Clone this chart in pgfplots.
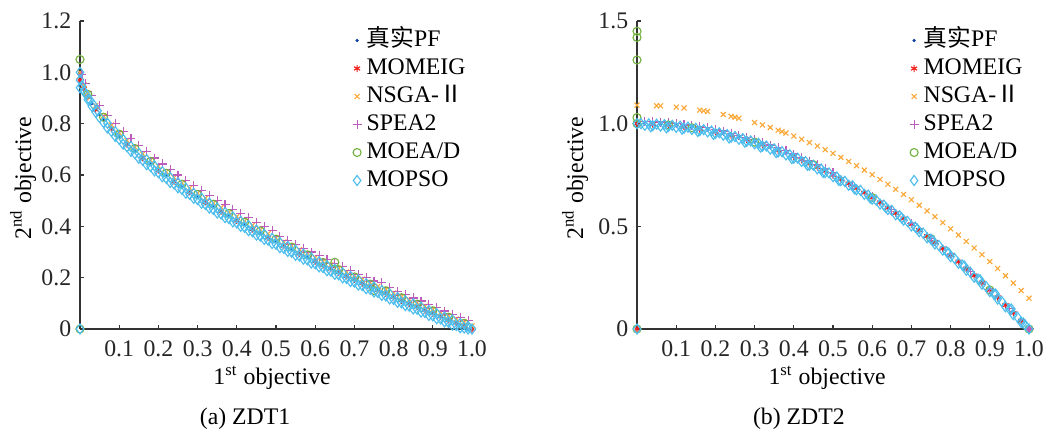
\documentclass[border=0pt]{standalone}
\usepackage{pgfplots}
\pgfplotsset{compat=1.18}
\usepackage{fontspec}
\setmainfont{Liberation Serif}
\newfontfamily\cjk{Noto Sans CJK SC}
\definecolor{pfblue}{rgb}{0.05,0.25,0.65}
\definecolor{momred}{rgb}{0.95,0.12,0.10}
\definecolor{nsgaor}{rgb}{0.98,0.66,0.22}
\definecolor{speapu}{rgb}{0.74,0.36,0.74}
\definecolor{moeagr}{rgb}{0.45,0.70,0.25}
\definecolor{mopcy}{rgb}{0.30,0.74,0.93}
\definecolor{axgray}{rgb}{0.2,0.2,0.2}
\newcommand{\fs}{\fontsize{9.5}{11}\selectfont}
\pgfplotsset{
  pf/.style={only marks, mark=*, mark size=0.45pt, color=pfblue},
  mom/.style={only marks, mark=asterisk, mark size=1.4pt, color=momred, mark options={line width=0.45pt}},
  nsga/.style={only marks, mark=x, mark size=1.4pt, color=nsgaor, mark options={line width=0.45pt}},
  spea/.style={only marks, mark=+, mark size=1.8pt, color=speapu, mark options={line width=0.45pt}},
  moead/.style={only marks, mark=o, mark size=1.6pt, color=moeagr, mark options={line width=0.45pt}},
  mopso/.style={only marks, mark=diamond, mark size=2.0pt, color=mopcy, mark options={line width=0.45pt}},
  myax/.style={
    anchor=south west, scale only axis, width=156.8pt, height=123.2pt,
    xmin=0, xmax=1.0, clip=false,
    axis x line*=bottom, axis y line*=left,
    axis line style={-, axgray, line width=0.55pt},
    tick style={axgray, line width=0.5pt}, tick align=inside,
    major tick length=1.7pt,
    xtick={0.1,0.2,0.3,0.4,0.5,0.6,0.7,0.8,0.9,1.0},
    xticklabels={0.1,0.2,0.3,0.4,0.5,0.6,0.7,0.8,0.9,1.0},
    tick label style={font=\fs, text=black!85},
    /pgf/number format/assume math mode=true,
    xticklabel style={yshift=-1.3pt},
    legend style={draw=none, fill=none, at={(0.675,1.0)}, anchor=north west,
      font=\fs, row sep=0pt, column sep=1.5pt,
      nodes={text height=7pt, text depth=2.2pt, inner ysep=1pt, inner xsep=0.5pt}},
    legend cell align=left,
    legend image code/.code={\draw[#1] plot coordinates {(0pt,0pt)};},
  }
}
\begin{document}
\begin{tikzpicture}
\path[use as bounding box] (0,0) rectangle (418pt,171.6pt);
% ---------------- ZDT1 ----------------
\begin{axis}[myax, at={(32pt,40pt)}, ymin=0, ymax=1.2,
  ytick={0,0.2,0.4,0.6,0.8,1.0,1.2}, yticklabels={0,0.2,0.4,0.6,0.8,1.0,1.2}]
\addplot[pf] coordinates {(0,1.0)(0.005,0.958)(0.01,0.937)(0.02,0.904)(0.03,0.878)(0.04,0.855)(0.05,0.834)(0.06,0.815)(0.08,0.780)(0.10,0.749)(0.12,0.720)(0.14,0.693)(0.16,0.667)(0.18,0.643)(0.20,0.619)(0.22,0.597)(0.24,0.575)(0.26,0.554)(0.28,0.534)(0.30,0.514)(0.32,0.495)(0.34,0.476)(0.36,0.458)(0.38,0.440)(0.40,0.423)(0.42,0.406)(0.44,0.389)(0.46,0.372)(0.48,0.356)(0.50,0.340)(0.52,0.324)(0.54,0.309)(0.56,0.294)(0.58,0.279)(0.60,0.264)(0.62,0.249)(0.64,0.235)(0.66,0.221)(0.68,0.207)(0.70,0.193)(0.72,0.179)(0.74,0.165)(0.76,0.152)(0.78,0.139)(0.80,0.125)(0.82,0.112)(0.84,0.099)(0.86,0.087)(0.88,0.074)(0.90,0.061)(0.92,0.049)(0.94,0.036)(0.96,0.024)(0.98,0.012)(1.0,0.0)};
\addlegendentry{{\cjk 真实}PF}
\addplot[mom] coordinates {(0,0.97)(0.01,0.937)(0.02,0.904)(0.04,0.855)(0.08,0.780)(0.12,0.720)(0.16,0.667)(0.20,0.619)(0.24,0.575)(0.28,0.534)(0.32,0.495)(0.36,0.458)(0.40,0.423)(0.44,0.389)(0.48,0.356)(0.52,0.324)(0.56,0.294)(0.60,0.264)(0.62,0.249)(0.64,0.235)(0.66,0.221)(0.68,0.207)(0.70,0.193)(0.72,0.179)(0.74,0.165)(0.76,0.152)(0.78,0.139)(0.80,0.125)(0.82,0.112)(0.84,0.099)(0.86,0.087)(0.88,0.074)(0.90,0.061)(0.92,0.049)(0.94,0.036)(0.96,0.024)(0.98,0.012)(1.0,0.0)};
\addlegendentry{MOMEIG}
\addplot[nsga] coordinates {(0,1.0)(0.01,0.952)(0.02,0.919)(0.04,0.870)(0.06,0.830)(0.08,0.795)(0.10,0.764)(0.12,0.735)(0.14,0.708)(0.16,0.682)(0.18,0.658)(0.20,0.634)(0.22,0.612)(0.24,0.590)(0.26,0.569)(0.28,0.549)(0.30,0.529)(0.32,0.510)(0.34,0.491)(0.36,0.473)(0.38,0.455)(0.40,0.438)(0.42,0.421)(0.44,0.404)(0.46,0.387)(0.48,0.371)(0.50,0.355)(0.52,0.339)(0.54,0.324)(0.56,0.309)(0.58,0.294)(0.60,0.279)(0.62,0.264)(0.64,0.250)(0.66,0.236)(0.68,0.222)(0.70,0.208)(0.72,0.194)(0.74,0.180)(0.76,0.167)(0.78,0.154)(0.80,0.140)(0.82,0.127)(0.84,0.114)(0.86,0.102)(0.88,0.089)(0.90,0.076)(0.92,0.064)(0.94,0.051)(0.96,0.039)(0.98,0.027)(1.0,0.012)};
\addlegendentry{NSGA-{\cjk Ⅱ}}
\addplot[spea] coordinates {(0.005,0.99)(0.015,0.955)(0.03,0.91)(0.05,0.87)(0.07,0.832)(0.09,0.80)(0.11,0.77)(0.13,0.742)(0.15,0.715)(0.17,0.69)(0.19,0.666)(0.21,0.643)(0.23,0.621)(0.25,0.60)(0.27,0.579)(0.29,0.559)(0.31,0.540)(0.33,0.52)(0.35,0.502)(0.37,0.484)(0.39,0.467)(0.41,0.45)(0.43,0.433)(0.45,0.416)(0.47,0.399)(0.49,0.383)(0.51,0.36)(0.53,0.345)(0.55,0.33)(0.57,0.315)(0.59,0.30)(0.61,0.285)(0.63,0.27)(0.65,0.256)(0.67,0.242)(0.69,0.228)(0.71,0.214)(0.73,0.20)(0.75,0.187)(0.77,0.18)(0.79,0.16)(0.81,0.147)(0.83,0.134)(0.85,0.121)(0.87,0.109)(0.89,0.096)(0.91,0.083)(0.93,0.07)(0.95,0.058)(0.97,0.046)(0.99,0.034)};
\addlegendentry{SPEA2}
\addplot[moead] coordinates {(0,1.05)(0,0)(0.65,0.26)(0.75,0.15)(0.02,0.914)(0.06,0.825)(0.10,0.759)(0.14,0.703)(0.18,0.653)(0.22,0.607)(0.26,0.564)(0.30,0.524)(0.34,0.486)(0.38,0.45)(0.42,0.416)(0.46,0.382)(0.50,0.35)(0.54,0.319)(0.58,0.289)(0.62,0.259)(0.66,0.231)(0.70,0.203)(0.74,0.175)(0.78,0.149)(0.82,0.122)(0.86,0.097)(0.90,0.071)(0.94,0.046)(0.98,0.022)};
\addlegendentry{MOEA/D}
\addplot[mopso] coordinates {(0,1.0)(0,0.97)(0,0.94)(0,0)(0.005,0.948)(0.01,0.927)(0.02,0.894)(0.03,0.868)(0.04,0.845)(0.05,0.824)(0.06,0.805)(0.08,0.770)(0.10,0.739)(0.12,0.710)(0.14,0.683)(0.16,0.657)(0.18,0.633)(0.20,0.609)(0.22,0.587)(0.24,0.565)(0.26,0.544)(0.28,0.524)(0.30,0.504)(0.32,0.485)(0.34,0.466)(0.36,0.448)(0.38,0.430)(0.40,0.413)(0.42,0.396)(0.44,0.379)(0.46,0.362)(0.48,0.346)(0.50,0.330)(0.52,0.314)(0.54,0.299)(0.56,0.284)(0.58,0.269)(0.60,0.254)(0.62,0.239)(0.64,0.225)(0.66,0.211)(0.68,0.197)(0.70,0.183)(0.72,0.169)(0.74,0.155)(0.76,0.142)(0.78,0.129)(0.80,0.115)(0.82,0.102)(0.84,0.089)(0.86,0.077)(0.88,0.064)(0.90,0.051)(0.92,0.039)(0.94,0.026)(0.96,0.014)(0.98,0.004)(1.0,0.0)
(0.07,0.783)(0.09,0.750)(0.11,0.720)(0.13,0.692)(0.15,0.665)(0.17,0.640)(0.19,0.616)(0.21,0.593)(0.23,0.571)(0.25,0.550)(0.27,0.529)(0.29,0.509)(0.31,0.490)(0.33,0.471)(0.35,0.452)(0.37,0.434)(0.39,0.417)(0.41,0.400)(0.43,0.383)(0.45,0.366)(0.47,0.349)(0.49,0.333)(0.51,0.317)(0.53,0.302)(0.55,0.287)(0.57,0.272)(0.59,0.257)(0.61,0.242)(0.63,0.227)(0.65,0.213)(0.67,0.199)(0.69,0.185)(0.71,0.171)(0.73,0.157)(0.75,0.144)(0.77,0.131)(0.79,0.117)(0.81,0.104)(0.83,0.091)(0.85,0.078)(0.87,0.066)(0.89,0.053)(0.91,0.040)(0.93,0.028)(0.95,0.015)(0.97,0.005)(0.99,0.0)
(0.015,0.915)(0.025,0.893)(0.035,0.872)(0.045,0.850)(0.07,0.802)(0.09,0.769)(0.11,0.739)(0.13,0.711)(0.15,0.685)(0.17,0.660)(0.19,0.636)(0.21,0.613)(0.23,0.591)(0.25,0.570)(0.27,0.549)(0.29,0.529)(0.31,0.510)(0.33,0.491)(0.35,0.472)(0.37,0.454)(0.39,0.437)(0.41,0.420)(0.43,0.403)(0.45,0.386)(0.47,0.369)(0.49,0.353)(0.51,0.337)(0.53,0.322)(0.55,0.307)(0.57,0.292)(0.59,0.277)(0.61,0.262)(0.63,0.247)(0.65,0.233)(0.67,0.219)(0.69,0.205)(0.71,0.191)(0.73,0.177)(0.75,0.164)(0.77,0.150)(0.79,0.137)(0.81,0.123)(0.83,0.110)(0.85,0.098)(0.87,0.085)(0.89,0.072)(0.91,0.060)(0.93,0.047)(0.95,0.035)(0.97,0.022)(0.99,0.010)};
\addlegendentry{MOPSO}
\node[font=\fs, anchor=center] at (axis description cs:0.49,-0.159) {1\textsuperscript{st} objective};
\node[font=\fs, anchor=center, rotate=90] at (axis description cs:-0.145,0.49) {2\textsuperscript{nd} objective};
\node[font=\fs, anchor=center] at (axis description cs:0.421,-0.292) {(a) ZDT1};
\end{axis}
% ---------------- ZDT2 ----------------
\begin{axis}[myax, at={(254.8pt,40pt)}, ymin=0, ymax=1.5,
  ytick={0,0.5,1.0,1.5}, yticklabels={0,0.5,1.0,1.5}]
\addplot[pf] coordinates {(0,1.0)(0.02,0.9996)(0.04,0.9984)(0.06,0.9964)(0.08,0.9936)(0.10,0.99)(0.12,0.9856)(0.14,0.9804)(0.16,0.9744)(0.18,0.9676)(0.20,0.96)(0.22,0.9516)(0.24,0.9424)(0.26,0.9324)(0.28,0.9216)(0.30,0.91)(0.32,0.8976)(0.34,0.8844)(0.36,0.8704)(0.38,0.8556)(0.40,0.84)(0.42,0.8236)(0.44,0.8064)(0.46,0.7884)(0.48,0.7696)(0.50,0.75)(0.52,0.7296)(0.54,0.7084)(0.56,0.6864)(0.58,0.6636)(0.60,0.64)(0.62,0.6156)(0.64,0.5904)(0.66,0.5644)(0.68,0.5376)(0.70,0.51)(0.72,0.4816)(0.74,0.4524)(0.76,0.4224)(0.78,0.3916)(0.80,0.36)(0.82,0.3276)(0.84,0.2944)(0.86,0.2604)(0.88,0.2256)(0.90,0.19)(0.92,0.1536)(0.94,0.1164)(0.96,0.0784)(0.98,0.0396)(1.0,0.0)};
\addlegendentry{{\cjk 真实}PF}
\addplot[mom] coordinates {(0,0)(0,1.0)(0.04,0.998)(0.08,0.994)(0.12,0.986)(0.16,0.974)(0.20,0.96)(0.24,0.942)(0.28,0.922)(0.32,0.898)(0.36,0.870)(0.40,0.84)(0.42,0.824)(0.44,0.806)(0.46,0.788)(0.48,0.770)(0.50,0.75)(0.52,0.73)(0.54,0.708)(0.56,0.686)(0.58,0.664)(0.60,0.64)(0.62,0.616)(0.64,0.590)(0.66,0.564)(0.68,0.538)(0.70,0.51)(0.72,0.482)(0.74,0.452)(0.76,0.422)(0.78,0.392)(0.80,0.36)(0.82,0.328)(0.84,0.294)(0.86,0.26)(0.88,0.226)(0.90,0.19)(0.92,0.154)(0.94,0.116)(0.96,0.078)(0.98,0.04)(1.0,0.0)};
\addlegendentry{MOMEIG}
\addplot[nsga] coordinates {(0,1.09)(0.05,1.0876)(0.06,1.0866)(0.10,1.0806)(0.12,1.0765)(0.16,1.0659)(0.17,1.0628)(0.18,1.0595)(0.22,1.0445)(0.24,1.0359)(0.25,1.0313)(0.26,1.0265)(0.30,1.0054)(0.32,0.9937)(0.34,0.9813)(0.36,0.9682)(0.37,0.9613)(0.38,0.9543)(0.40,0.9396)(0.42,0.9242)(0.44,0.9080)(0.46,0.8911)(0.48,0.8734)(0.50,0.855)(0.52,0.8358)(0.54,0.8159)(0.56,0.7952)(0.58,0.7738)(0.60,0.7516)(0.62,0.7287)(0.64,0.7050)(0.66,0.6805)(0.68,0.6553)(0.70,0.6294)(0.72,0.6027)(0.74,0.5752)(0.76,0.5470)(0.78,0.5181)(0.80,0.4884)(0.82,0.4579)(0.84,0.4267)(0.86,0.3948)(0.88,0.3621)(0.90,0.3286)(0.92,0.2944)(0.94,0.2594)(0.96,0.2237)(0.98,0.1872)(1.0,0.15)};
\addlegendentry{NSGA-{\cjk Ⅱ}}
\addplot[spea] coordinates {(0.02,1.012)(0.04,1.010)(0.06,1.008)(0.08,1.006)(0.10,1.002)(0.12,0.998)(0.14,0.992)(0.16,0.986)(0.18,0.98)(0.20,0.972)(0.22,0.964)(0.24,0.954)(0.26,0.944)(0.28,0.934)(0.30,0.922)(0.32,0.91)(0.34,0.896)(0.36,0.882)(0.38,0.868)(0.40,0.852)(0.42,0.836)(0.44,0.818)(0.46,0.80)(0.48,0.782)(0.50,0.762)(0.55,0.70)(0.6,0.645)(0.65,0.58)(0.7,0.513)(0.75,0.44)(0.8,0.363)(0.85,0.28)(0.9,0.193)(0.95,0.10)(1.0,0.0)};
\addlegendentry{SPEA2}
\addplot[moead] coordinates {(0,1.45)(0,1.42)(0,1.31)(0,1.03)(0,1.0)(0,0)(0.08,0.994)(0.14,0.98)(0.3,0.91)(0.45,0.80)(0.6,0.64)(0.75,0.44)(0.9,0.19)(1.0,0.0)};
\addlegendentry{MOEA/D}
\addplot[mopso] coordinates {(0,1.0)(0,0)(0.02,0.992)(0.04,0.990)(0.06,0.988)(0.08,0.986)(0.10,0.982)(0.12,0.978)(0.14,0.972)(0.16,0.966)(0.18,0.960)(0.20,0.952)(0.22,0.944)(0.24,0.934)(0.26,0.924)(0.28,0.914)(0.30,0.902)(0.32,0.890)(0.34,0.876)(0.36,0.862)(0.38,0.848)(0.40,0.832)(0.42,0.816)(0.44,0.798)(0.46,0.780)(0.48,0.762)(0.50,0.742)(0.52,0.722)(0.54,0.700)(0.56,0.678)(0.58,0.656)(0.60,0.632)(0.62,0.608)(0.64,0.582)(0.66,0.556)(0.68,0.530)(0.70,0.502)(0.72,0.474)(0.74,0.444)(0.76,0.414)(0.78,0.384)(0.80,0.352)(0.82,0.320)(0.84,0.286)(0.86,0.252)(0.88,0.218)(0.90,0.182)(0.92,0.146)(0.94,0.108)(0.96,0.070)(0.98,0.032)(1.0,0.0)
(0.01,0.9999)(0.03,0.9991)(0.05,0.9975)(0.07,0.9951)(0.09,0.9919)(0.11,0.9879)(0.13,0.9831)(0.15,0.9775)(0.17,0.9711)(0.19,0.9639)(0.21,0.9559)(0.23,0.9471)(0.25,0.9375)(0.27,0.9271)(0.29,0.9159)(0.31,0.9039)(0.33,0.8911)(0.35,0.8775)(0.37,0.8631)(0.39,0.8479)(0.41,0.8319)(0.43,0.8151)(0.45,0.7975)(0.47,0.7791)(0.49,0.7599)(0.51,0.7399)(0.53,0.7191)(0.55,0.6975)(0.57,0.6751)(0.59,0.6519)(0.61,0.6279)(0.63,0.6031)(0.65,0.5775)(0.67,0.5511)(0.69,0.5239)(0.71,0.4959)(0.73,0.4671)(0.75,0.4375)(0.77,0.4071)(0.79,0.3759)(0.81,0.3439)(0.83,0.3111)(0.85,0.2775)(0.87,0.2431)(0.89,0.2079)(0.91,0.1719)(0.93,0.1351)(0.95,0.0975)(0.97,0.0591)(0.99,0.0199)
(0.035,0.985)(0.075,0.980)(0.115,0.973)(0.155,0.962)(0.195,0.948)(0.235,0.930)(0.275,0.910)(0.315,0.886)(0.355,0.859)(0.395,0.830)(0.435,0.797)(0.475,0.762)(0.515,0.723)(0.555,0.682)(0.595,0.638)(0.635,0.591)(0.675,0.541)(0.715,0.487)(0.755,0.430)(0.795,0.370)(0.835,0.307)(0.875,0.240)(0.915,0.170)(0.955,0.097)(0.985,0.030)};
\addlegendentry{MOPSO}
\node[font=\fs, anchor=center] at (axis description cs:0.485,-0.159) {1\textsuperscript{st} objective};
\node[font=\fs, anchor=center, rotate=90] at (axis description cs:-0.158,0.49) {2\textsuperscript{nd} objective};
\node[font=\fs, anchor=center] at (axis description cs:0.413,-0.292) {(b) ZDT2};
\end{axis}
\end{tikzpicture}
\end{document}
